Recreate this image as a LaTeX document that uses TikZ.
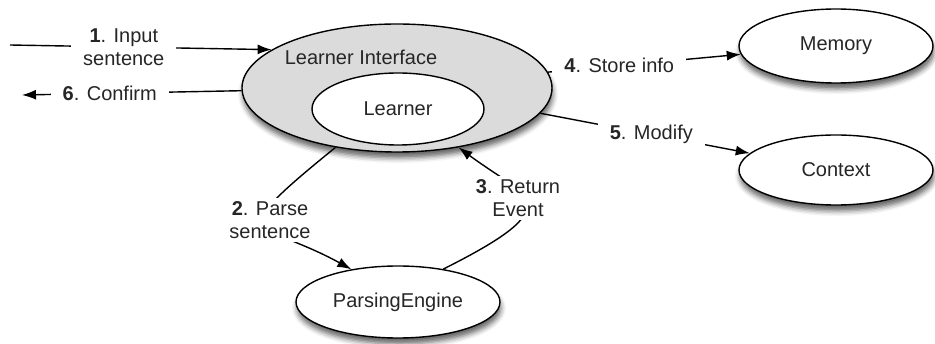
\documentclass[tikz,border=0pt]{standalone}
\usepackage{fontspec}
\setmainfont{Liberation Sans}
\usetikzlibrary{shapes.geometric,arrows.meta,shadows.blur}
\begin{document}
\begin{tikzpicture}[x=1pt,y=-1pt,
  every node/.style={font=\fontsize{20}{23}\selectfont, text=black!85},
  ellplain/.style={ellipse, draw, line width=1.4pt, fill=white, inner sep=0pt},
  ell/.style={ellplain, blur shadow={shadow xshift=1pt, shadow yshift=-6pt, shadow blur radius=5pt, shadow opacity=60}},
  conn/.style={line width=1.4pt},
  arr/.style={conn, -{Latex[length=14pt,width=10pt]}},
  lbl/.style={fill=white, align=center, inner xsep=12pt, inner ysep=2pt},
  clbl/.style={fill=white, align=center, inner xsep=4pt, inner ysep=3pt}]
\useasboundingbox (0,0) rectangle (935,344);
% nodes
\node[ell, fill=gray!28, minimum width=310pt, minimum height=128pt] (li) at (397,88) {};
\node (litext) at (361,57) {Learner Interface};
\node[ellplain, minimum width=172pt, minimum height=72pt] (learner) at (398,109) {Learner};
\node[ell, minimum width=194pt, minimum height=74pt] (mem) at (836,46) {Memory};
\node[ell, minimum width=194pt, minimum height=70pt] (ctx) at (836,170) {Context};
\node[ell, minimum width=204pt, minimum height=72pt] (pe) at (398,302) {ParsingEngine};
% free ends
\coordinate (in) at (10,45);
\coordinate (out) at (22,95);
% connectors
\draw[arr] (in) -- node[lbl, pos=0.435] (l1) {\textbf{1}. Input\\sentence} (li.163);
\draw[arr] (li.181) -- node[lbl, pos=0.6] (l6) {\textbf{6}. Confirm} (out);
\draw[arr] (li.6) -- node[lbl, pos=0.37] (l4) {\textbf{4}. Store info} (mem.185);
\draw[arr] (li.-10.5) -- node[lbl, pos=0.53] (l5) {\textbf{5}. Modify} (ctx.169);
\draw[arr] (li.-136) .. controls (219,242) and (260,219) .. (pe.145);
\node[clbl] (l2) at (270,220) {\textbf{2}. Parse\\sentence};
\draw[arr] (pe.36) .. controls (573,204) and (527,198) .. (li.-44);
\node[clbl] (l3) at (518,198) {\textbf{3}. Return\\Event};
\end{tikzpicture}
\end{document}
